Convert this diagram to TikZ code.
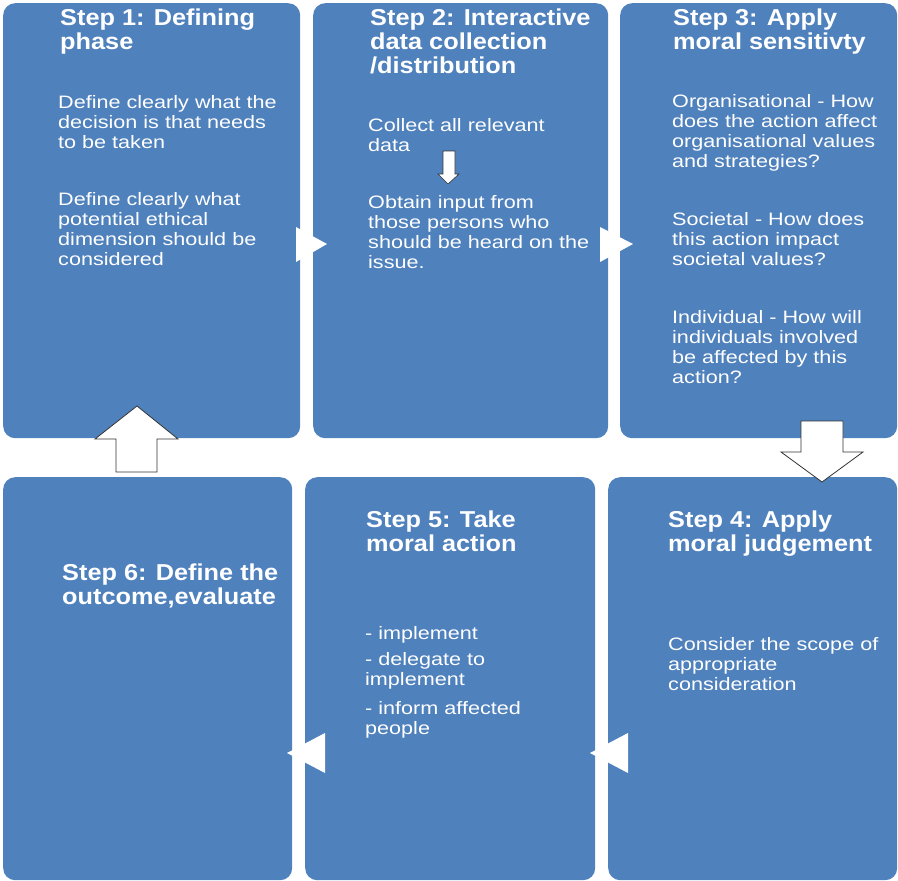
\documentclass[tikz,border=0pt]{standalone}
\usepackage{fontspec}
\setmainfont{Liberation Sans}
\newfontfamily\titlefont[FakeStretch=1.1]{Liberation Sans}
\newfontfamily\bodyfont[FakeStretch=1.2]{Liberation Sans}
\usetikzlibrary{positioning}
\definecolor{stepblue}{RGB}{79,129,189}
\tikzset{
  stepbox/.style={fill=stepblue,draw=none,rounded corners=12pt,anchor=north west,inner sep=0pt},
  steptitle/.style={text=white,anchor=north west,align=left,inner sep=0pt,font=\titlefont\fontsize{23}{24}\selectfont\bfseries},
  steptext/.style={text=white,anchor=north west,align=left,inner sep=0pt,font=\bodyfont\fontsize{18}{20}\selectfont},
  pointer/.style={fill=white,draw=none},
  blockarrow/.style={fill=white,draw=black!80,line width=0.8pt,line join=miter}
}
\begin{document}
\begin{tikzpicture}[x=1pt,y=-1pt]
\useasboundingbox (0,0) rectangle (898,881);
% the six boxes
\foreach \n/\x/\y/\w/\h in {1/3/3/297/435, 2/313/3/295/435, 3/620/3/277/435,
                             6/3/477/289/403, 5/305/477/290/403, 4/608/477/289/403}
  \node[stepbox,minimum width=\w pt,minimum height=\h pt] (box\n) at (\x,\y) {};
% the triangles between the boxes
\fill[pointer] (296,227) -- (327,244) -- (296,262) -- cycle;
\fill[pointer] (600,227) -- (633,244) -- (600,262) -- cycle;
\fill[pointer] (628,733) -- (590,753) -- (628,773) -- cycle;
\fill[pointer] (325,733) -- (287,753) -- (325,773) -- cycle;
% the block arrows
\draw[blockarrow] (137,406) -- (178,439) -- (157,439) -- (157,472) -- (116,472) -- (116,439) -- (95,439) -- cycle;
\draw[blockarrow] (801,421) -- (843,421) -- (843,452) -- (863,452) -- (822,482) -- (781,452) -- (801,452) -- cycle;
\draw[blockarrow,line width=0.6pt] (443,151) -- (455,151) -- (455,174) -- (459,174) -- (448,184) -- (438,174) -- (443,174) -- cycle;
% step 1
\node[steptitle] (title1) at (60,9) {Step 1: Defining\\phase};
\node[steptext] (text1a) at (58,95) {Define clearly what the\\decision is that needs\\to be taken};
\node[steptext] (text1b) at (58,192) {Define clearly what\\potential ethical\\dimension  should be\\considered};
% step 2
\node[steptitle] (title2) at (370,9) {Step 2: Interactive\\data collection\\/distribution};
\node[steptext] (text2a) at (368,118) {Collect  all relevant\\data};
\node[steptext] (text2b) at (368,195) {Obtain input  from\\those persons who\\should be heard on the\\issue.};
% step 3
\node[steptitle] (title3) at (673,9) {Step 3:  Apply\\moral sensitivty};
\node[steptext] (text3a) at (672,94) {Organisational - How\\does the action affect\\organisational values\\and strategies?};
\node[steptext] (text3b) at (672,212) {Societal - How does\\this action impact\\societal values?};
\node[steptext] (text3c) at (672,310) {Individual - How will\\individuals involved\\be affected by this\\action?};
% step 4
\node[steptitle] (title4) at (668,511) {Step 4: Apply\\moral judgement};
\node[steptext] (text4) at (668,637) {Consider the scope of\\appropriate\\consideration};
% step 5
\node[steptitle] (title5) at (366,511) {Step 5: Take\\moral action};
\node[steptext] (text5a) at (365,626) {- implement};
\node[steptext] (text5b) at (365,652) {- delegate to\\implement};
\node[steptext] (text5c) at (365,701) {- inform affected\\people};
% step 6
\node[steptitle] (title6) at (62,564) {Step 6: Define the\\outcome,evaluate};
\end{tikzpicture}
\end{document}
